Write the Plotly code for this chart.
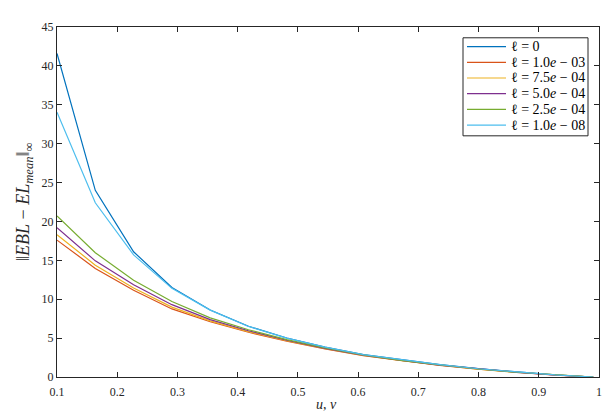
import plotly.graph_objects as go

x_vals = [0.1, 0.1636, 0.2272, 0.2908, 0.3544, 0.418, 0.4816, 0.5452, 0.6088,
          0.6724, 0.736, 0.7996, 0.8632, 0.9268, 0.9904]

labels = ["ℓ = 0", "ℓ = 1.0<i>e</i> − 03", "ℓ = 7.5<i>e</i> − 04",
          "ℓ = 5.0<i>e</i> − 04", "ℓ = 2.5<i>e</i> − 04", "ℓ = 1.0<i>e</i> − 08"]

y_l0 = [41.6, 24.0, 16.1, 11.5, 8.62, 6.52, 5.02, 3.85, 2.88, 2.2, 1.6, 1.07, 0.63, 0.27, 0.0]
y_1e3 = [17.6, 13.96, 11.15, 8.75, 7.1, 5.75, 4.6, 3.6, 2.75, 2.08, 1.5, 1.0, 0.59, 0.25, 0.0]
y_75e4 = [18.3, 14.38, 11.44, 8.98, 7.22, 5.84, 4.66, 3.65, 2.78, 2.1, 1.52, 1.01, 0.6, 0.26, 0.0]
y_5e4 = [19.2, 14.93, 11.86, 9.3, 7.38, 5.95, 4.72, 3.69, 2.81, 2.12, 1.53, 1.02, 0.6, 0.26, 0.0]
y_25e4 = [20.7, 15.98, 12.45, 9.7, 7.6, 6.08, 4.8, 3.74, 2.84, 2.14, 1.55, 1.03, 0.61, 0.26, 0.0]
y_1e8 = [34.05, 22.4, 15.7, 11.4, 8.6, 6.5, 5.0, 3.84, 2.87, 2.19, 1.59, 1.06, 0.62, 0.27, 0.0]

series = [y_l0, y_1e3, y_75e4, y_5e4, y_25e4, y_1e8]
colors = ["#0072BD", "#D95319", "#EDB120", "#7E2F8E", "#77AC30", "#4DBEEE"]

x_ticks = [0.1, 0.2, 0.3, 0.4, 0.5, 0.6, 0.7, 0.8, 0.9, 1]
x_tick_text = ["0.1", "0.2", "0.3", "0.4", "0.5", "0.6", "0.7", "0.8", "0.9", "1"]
y_ticks = [0, 5, 10, 15, 20, 25, 30, 35, 40, 45]

# page body has an 8px default margin; compensate so the plot lands at the
# reference's pixel positions inside the 615x419 window
OFF = 8
W, H = 615 - OFF, 419 - OFF
ML, MR, MT, MB = 57 - OFF, 16, 20 - OFF, 42
PW, PH = W - ML - MR, H - MT - MB


def px_x(p):
    return (p - OFF - ML) / PW


def px_y(p):
    return (H - MB - (p - OFF)) / PH


FONT = "Times New Roman, Liberation Serif, DejaVu Serif, serif"
AX = "#262626"

fig = go.Figure()
for name, ys, c in zip(labels, series, colors):
    fig.add_trace(go.Scatter(x=x_vals, y=ys, mode="lines", name=name,
                             line=dict(color=c, width=1.2), showlegend=False))

axis_common = dict(showline=True, linecolor=AX, linewidth=1, mirror="ticks",
                   ticks="inside", ticklen=5, tickcolor=AX, showgrid=False,
                   zeroline=False, tickfont=dict(size=12, color=AX, family=FONT))

shapes = []
annotations = []

# legend box
shapes.append(dict(type="rect", xref="paper", yref="paper",
                   x0=px_x(463), x1=px_x(588), y0=px_y(131), y1=px_y(31),
                   line=dict(color=AX, width=1), fillcolor="white", layer="above"))
row_y = [40, 56, 72, 88, 104, 120]
for name, c, ry in zip(labels, colors, row_y):
    shapes.append(dict(type="line", xref="paper", yref="paper",
                       x0=px_x(467), x1=px_x(506), y0=px_y(ry), y1=px_y(ry),
                       line=dict(color=c, width=1.2), layer="above"))
    annotations.append(dict(text=name, xref="paper", yref="paper",
                            x=px_x(509), y=px_y(ry), xanchor="left", yanchor="middle",
                            showarrow=False, font=dict(size=14, color="black", family=FONT)))

# axis titles
annotations.append(dict(text="‖<i>EBL</i> − <i>EL</i><sub><i>mean</i></sub>‖<sub>∞</sub>",
                        xref="paper", yref="paper", x=px_x(24), y=0.5,
                        xanchor="center", yanchor="middle", textangle=-90,
                        showarrow=False, font=dict(size=18, color=AX, family=FONT)))
annotations.append(dict(text="<i>u</i>, <i>v</i>", xref="paper", yref="paper",
                        x=px_x(326), y=px_y(405), xanchor="center", yanchor="middle",
                        showarrow=False, font=dict(size=14, color=AX, family=FONT)))

fig.update_layout(
    width=W, height=H,
    margin=dict(l=ML, r=MR, t=MT, b=MB),
    paper_bgcolor="white", plot_bgcolor="white",
    font=dict(family=FONT, color=AX, size=12),
    xaxis=dict(range=[0.1, 1], tickvals=x_ticks, ticktext=x_tick_text,
               ticklabelstandoff=4, **axis_common),
    yaxis=dict(range=[0, 45], tickvals=y_ticks, **axis_common),
    shapes=shapes,
    annotations=annotations,
    showlegend=False,
)

fig.write_html("out.html")
